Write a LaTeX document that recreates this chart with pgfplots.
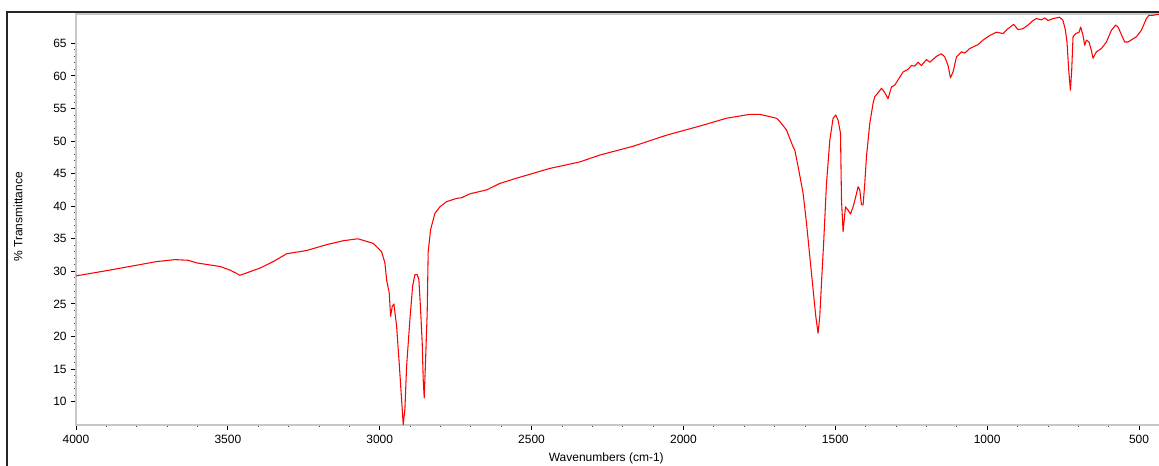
\documentclass[border=0pt]{standalone}
\usepackage{pgfplots}
\usepackage{pgfplotstable}
\usepackage{fontspec}
\setmainfont{Liberation Sans}
\pgfplotsset{compat=1.18}

% IR spectrum: wavenumber (cm-1) vs. % transmittance
\pgfplotstableread{
wn T
4000.0 29.3
3888.1 30.2
3734.4 31.5
3674.1 31.8
3630.4 31.7
3602.7 31.3
3526.0 30.75
3493.1 30.2
3460.2 29.4
3394.3 30.5
3350.6 31.5
3306.5 32.7
3240.6 33.2
3174.8 34.1
3120.1 34.7
3071.8 35.0
3043.1 34.6
3021.4 34.3
2993.8 33.0
2982.9 31.3
2977.3 28.7
2968.7 26.7
2964.1 23.1
2958.9 24.6
2953.3 25.0
2944.4 21.6
2935.8 15.9
2930.2 11.9
2922.6 6.5
2917.1 8.8
2911.5 15.4
2900.6 22.6
2891.7 27.7
2884.2 29.5
2876.6 29.5
2871.0 28.7
2865.4 24.1
2860.1 19.0
2856.8 13.4
2853.5 10.6
2848.9 16.5
2843.7 23.6
2840.4 33.0
2832.5 36.4
2818.3 38.9
2801.9 39.9
2779.8 40.7
2746.9 41.2
2730.4 41.3
2703.1 41.9
2648.1 42.5
2604.4 43.5
2549.4 44.3
2439.8 45.8
2341.0 46.8
2275.2 47.85
2165.6 49.2
2055.6 50.9
1946.0 52.3
1858.2 53.5
1781.5 54.1
1748.5 54.1
1693.6 53.5
1682.7 53.0
1660.7 51.7
1638.9 49.1
1633.3 48.6
1622.5 46.1
1606.0 42.0
1594.8 37.4
1584.0 32.3
1573.1 27.2
1564.2 23.1
1556.7 20.5
1551.1 23.1
1545.5 28.2
1537.9 34.8
1529.0 43.5
1518.1 50.1
1507.3 53.5
1498.4 54.0
1490.8 53.2
1482.9 51.2
1479.6 41.0
1474.4 36.1
1466.4 39.9
1457.9 39.4
1450.0 38.8
1441.4 39.9
1432.5 41.5
1425.0 43.0
1419.4 42.5
1413.8 40.2
1408.5 40.2
1402.9 43.5
1397.4 47.6
1386.5 52.7
1375.6 55.8
1370.1 56.8
1359.2 57.4
1348.0 58.1
1337.9 57.5
1326.2 56.5
1315.0 58.3
1304.0 58.6
1287.8 59.8
1276.9 60.6
1260.4 61.0
1249.3 61.6
1238.3 61.5
1227.5 62.1
1216.3 61.6
1199.9 62.5
1188.9 62.1
1166.9 63.0
1150.5 63.4
1139.6 62.9
1128.7 61.6
1120.9 59.7
1112.3 60.6
1101.1 62.9
1084.6 63.7
1073.8 63.5
1057.3 64.2
1030.0 64.8
1013.6 65.5
991.5 66.2
969.4 66.7
947.7 66.5
931.3 67.25
912.5 67.9
898.3 67.1
881.8 67.25
865.4 67.8
848.9 68.5
837.7 68.8
821.3 68.6
810.4 68.9
799.6 68.5
783.1 68.8
761.1 69.0
750.2 68.5
742.3 67.0
737.1 65.2
731.5 60.9
725.9 57.8
721.6 60.9
717.3 66.0
708.4 66.5
697.6 66.7
692.0 67.5
684.4 66.2
678.8 64.7
673.3 65.5
664.7 65.2
656.8 63.9
651.5 62.7
640.3 63.7
623.8 64.2
607.4 65.2
591.0 67.0
576.8 67.8
569.2 67.5
547.2 65.2
536.4 65.2
508.7 66.0
492.3 67.0
475.8 68.8
467.3 69.3
454.1 69.3
435.3 69.45
420.0 69.45
}\spectrum

\begin{document}
\begin{tikzpicture}
\begin{axis}[
  at={(57pt,30pt)}, anchor=south west,
  scale only axis,
  width=820.05pt, height=308.4pt,
  x dir=reverse,
  xmin=400, xmax=4000,
  ymin=6.42, ymax=69.53,
  xtick={500,1000,...,4000},
  ytick={10,15,...,65},
  minor x tick num=4,
  minor y tick num=4,
  xtick pos=bottom, ytick pos=left,
  tick align=outside,
  major tick length=3.5pt,
  minor tick length=1.6pt,
  tick style={black, line width=0.7pt},
  minor tick style={black!70, line width=0.6pt},
  axis line style={black!22, line width=1.8pt},
  /pgf/number format/1000 sep={},
  /pgf/number format/assume math mode=true,
  tick label style={font=\fontsize{9}{10.8}\selectfont, text=black},
  xticklabel style={yshift=-0.5pt},
  label style={font=\fontsize{9}{10.8}\selectfont},
  xlabel={Wavenumbers (cm-1)},
  ylabel={\% Transmittance},
  xlabel style={at={(axis description cs:0.485,0)}, anchor=center, yshift=-24.75pt},
  ylabel style={at={(axis description cs:0,0.506)}, anchor=center, rotate=0, yshift=43.5pt},
]
\addplot[red, line width=0.8pt, line join=round] table[x=wn, y=T] {\spectrum};
\end{axis}
% window frame
\draw[black!85, line width=1.3pt] (5.25pt,-5pt) -- (5.25pt,339.75pt) -- (880pt,339.75pt);
\pgfresetboundingbox
\path[use as bounding box] (0pt,0pt) rectangle (869.25pt,348.75pt);
\end{tikzpicture}
\end{document}
